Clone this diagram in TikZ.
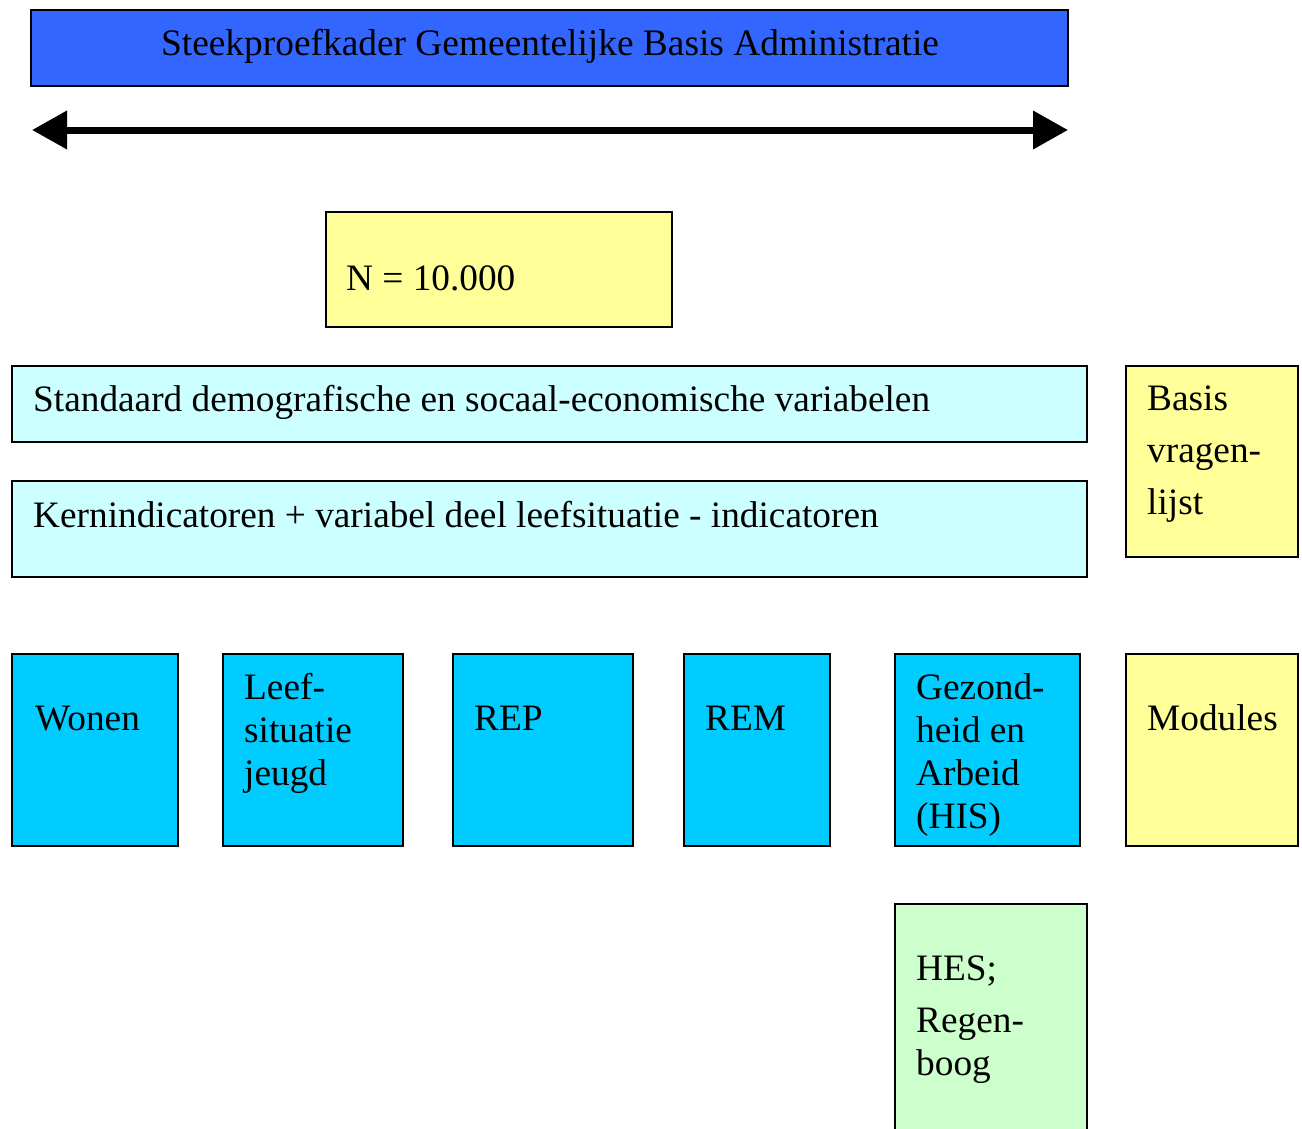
\documentclass[tikz,border=0pt]{standalone}
\usepackage{fontspec}
\setmainfont{Liberation Serif}
\usetikzlibrary{arrows.meta}
\definecolor{titleblue}{HTML}{3366FF}
\definecolor{lightcyan}{HTML}{CCFFFF}
\definecolor{modblue}{HTML}{00CCFF}
\definecolor{lightyellow}{HTML}{FFFF99}
\definecolor{lightgreen}{HTML}{CCFFCC}
\begin{document}
\begin{tikzpicture}[x=1pt,y=-1pt,
  box/.style={draw=black, line width=1.5pt, anchor=north west, inner sep=0pt, outer sep=0pt},
  txt/.style={anchor=base west, inner sep=0pt, align=left, font=\fontsize{37.3}{43}\selectfont},
]
\useasboundingbox (0,0) rectangle (1302,1128);
% title
\node[box, fill=titleblue, minimum width=1037pt, minimum height=76pt] (title) at (31,10) {};
\node[anchor=base, inner sep=0pt, font=\fontsize{37.4}{43}\selectfont] (titletxt) at (550,55) {Steekproefkader Gemeentelijke Basis Administratie};
% arrow
\coordinate (al) at (32,130);
\coordinate (ar) at (1068,130);
\draw[line width=7pt, {Triangle[length=35pt,width=37pt]}-{Triangle[length=35pt,width=37pt]}] (al) -- (ar);
% N box
\node[box, fill=lightyellow, minimum width=346pt, minimum height=115pt] (nbox) at (326,212) {};
\node[txt] (ntxt) at (346,290) {N = 10.000};
% wide boxes
\node[box, fill=lightcyan, minimum width=1075pt, minimum height=76pt] (std) at (12,366) {};
\node[txt] (stdtxt) at (33,411) {Standaard demografische en socaal-economische variabelen};
\node[box, fill=lightcyan, minimum width=1075pt, minimum height=96pt] (kern) at (12,481) {};
\node[txt] (kerntxt) at (33,527) {Kernindicatoren + variabel deel leefsituatie - indicatoren};
\node[box, fill=lightyellow, minimum width=172pt, minimum height=191pt] (basis) at (1126,366) {};
\node[txt, font=\fontsize{37.3}{52}\selectfont] (basistxt) at (1147,514) {Basis\\vragen-\\lijst};
% module row
\node[box, fill=modblue, minimum width=166pt, minimum height=192pt] (wonen) at (12,654) {};
\node[txt] (wonentxt) at (35,730) {Wonen};
\node[box, fill=modblue, minimum width=180pt, minimum height=192pt] (leef) at (223,654) {};
\node[txt] (leeftxt) at (244,785) {Leef-\\situatie\\jeugd};
\node[box, fill=modblue, minimum width=180pt, minimum height=192pt] (rep) at (453,654) {};
\node[txt] (reptxt) at (474,730) {REP};
\node[box, fill=modblue, minimum width=146pt, minimum height=192pt] (rem) at (684,654) {};
\node[txt] (remtxt) at (705,730) {REM};
\node[box, fill=modblue, minimum width=185pt, minimum height=192pt] (gez) at (895,654) {};
\node[txt] (geztxt) at (916,828) {Gezond-\\heid en\\Arbeid\\(HIS)};
\node[box, fill=lightyellow, minimum width=172pt, minimum height=192pt] (mod) at (1126,654) {};
\node[txt] (modtxt) at (1147,730) {Modules};
% HES box
\node[box, fill=lightgreen, minimum width=192pt, minimum height=240pt] (hes) at (895,904) {};
\node[txt] (hestxt) at (916,1075) {HES;\\[9pt]Regen-\\boog};
\end{tikzpicture}
\end{document}
